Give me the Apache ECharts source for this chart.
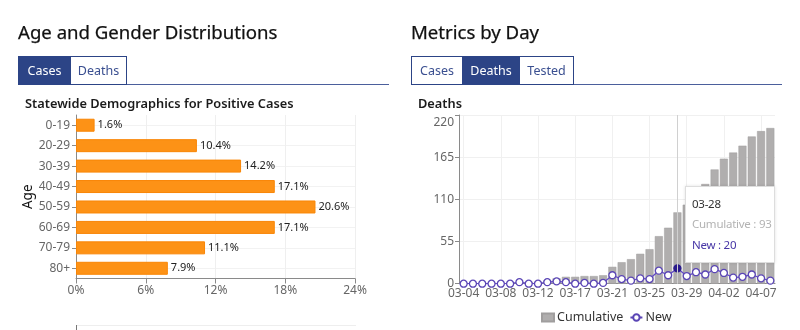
<!DOCTYPE html>
<html>
<head>
<meta charset="utf-8">
<script src="https://cdn.jsdelivr.net/npm/echarts@6/dist/echarts.min.js"></script>
<style>
  body { margin: 0; width: 800px; height: 330px; overflow: hidden; background: #fff; font-family: "Noto Sans", sans-serif; }
  #chart { position: absolute; left: 0; top: 0; width: 800px; height: 330px; }
  .head { position: absolute; top: 19px; font-size: 18.6px; color: #111; white-space: nowrap; -webkit-text-stroke: 0.25px #111; }
  .tab { position: absolute; top: 56px; height: 29px; box-sizing: border-box; border: 1px solid #2c4486;
         font-size: 12.5px; line-height: 27px; text-align: center; color: #3a4f90; background: #fff; }
  .tab.on { background: #2c4486; color: #fff; }
  .rule { position: absolute; top: 84px; height: 1px; background: #4b5f9c; }
  .sub { position: absolute; top: 94px; font-size: 12.8px; font-weight: 600; color: #1b1b1b; white-space: nowrap; }
  .panel-top { position: absolute; }
</style>
</head>
<body>
<div id="chart"></div>

<div class="head" style="left:18px">Age and Gender Distributions</div>
<div class="rule" style="left:18px;width:371px"></div>
<div class="tab on" style="left:18px;width:53px">Cases</div>
<div class="tab" style="left:70px;width:57px">Deaths</div>
<div class="sub" style="left:25px">Statewide Demographics for Positive Cases</div>
<div class="panel-top" style="left:76px;top:325px;width:1px;height:5px;background:#777"></div>
<div class="panel-top" style="left:77px;top:325px;width:279px;height:1px;background:#eee"></div>

<div class="head" style="left:411px">Metrics by Day</div>
<div class="rule" style="left:411px;width:371px"></div>
<div class="tab" style="left:411px;width:52px">Cases</div>
<div class="tab on" style="left:462px;width:58px">Deaths</div>
<div class="tab" style="left:519px;width:55px">Tested</div>
<div class="sub" style="left:418px">Deaths</div>

<script>
// Share of positive cases by age group (%)
const ageGroups = ['0-19', '20-29', '30-39', '40-49', '50-59', '60-69', '70-79', '80+'];
const casePct = [1.6, 10.4, 14.2, 17.1, 20.6, 17.1, 11.1, 7.9];

// Daily deaths
const days = ['03-04', '03-05', '03-06', '03-07', '03-08', '03-09', '03-10', '03-11', '03-12', '03-13',
  '03-14', '03-16', '03-17', '03-18', '03-19', '03-20', '03-21', '03-22', '03-23', '03-24',
  '03-25', '03-26', '03-27', '03-28', '03-29', '03-30', '03-31', '04-01', '04-02', '04-03',
  '04-04', '04-06', '04-07', '04-08'];
const cumulativeDeaths = [0, 0, 0, 0, 0, 0, 2, 2, 2, 4, 7, 9, 9, 10, 10, 11, 22, 28, 32, 39,
  45, 62, 73, 93, 103, 118, 130, 149, 163, 171, 180, 192, 199, 203];
const newDeaths = [0, 0, 0, 0, 0, 0, 2, 0, 0, 2, 3, 2, 0, 1, 0, 1, 11, 6, 4, 7,
  6, 17, 11, 20, 10, 15, 12, 19, 14, 8, 9, 12, 7, 4];
const focusDay = '03-28';

const font = '"Noto Sans", sans-serif';
const axisGray = '#8a8a8a';
const labelGray = '#666';
const lineColor = '#5a45b5';
const cumColor = '#b0aeae';

const chart = echarts.init(document.getElementById('chart'), null, { renderer: 'canvas' });

chart.setOption({
  animation: false,
  textStyle: { fontFamily: font },
  grid: [
    { left: 76, right: 445, top: 115, bottom: 51.5 },
    { left: 459, right: 25, top: 115, bottom: 46.3 }
  ],
  xAxis: [
    {
      gridIndex: 0, type: 'value', min: 0, max: 24, interval: 6,
      axisLine: { show: true, lineStyle: { color: axisGray } },
      axisTick: { show: true, length: 5, lineStyle: { color: axisGray } },
      axisLabel: { formatter: '{value}%', color: labelGray, fontSize: 12, margin: 6 },
      splitLine: { show: true, lineStyle: { color: '#efefef' } }
    },
    {
      gridIndex: 1, type: 'category', data: days,
      axisLine: { lineStyle: { color: axisGray } },
      axisTick: { alignWithLabel: true, interval: 3, length: 5, lineStyle: { color: axisGray } },
      axisLabel: { interval: 3, color: labelGray, fontSize: 12, margin: 4 },
      splitLine: { show: true, interval: 3, alignWithLabel: true, lineStyle: { color: '#f0f0f0' } },
      axisPointer: { type: 'line', lineStyle: { color: '#d0d0d0', width: 1, type: 'solid' }, label: { show: false } }
    }
  ],
  yAxis: [
    {
      gridIndex: 0, type: 'category', data: ageGroups, inverse: true,
      name: 'Age', nameLocation: 'middle', nameGap: 38, nameRotate: 90,
      nameTextStyle: { color: '#111', fontSize: 13.5 },
      axisLine: { show: true, lineStyle: { color: axisGray } },
      axisTick: { show: true, alignWithLabel: true, length: 4, lineStyle: { color: axisGray } },
      axisLabel: { color: labelGray, fontSize: 12, margin: 6 },
      splitLine: { show: true, alignWithLabel: true, lineStyle: { color: '#f2f2f2' } }
    },
    {
      gridIndex: 1, type: 'value', min: 0, max: 220, interval: 55,
      axisLine: { show: true, lineStyle: { color: axisGray } },
      axisTick: { show: true, length: 4, lineStyle: { color: axisGray } },
      axisLabel: {
        color: labelGray, fontSize: 12, margin: 5,
        formatter: v => (v === 220 ? '{top|220}' : String(v)),
        rich: { top: { padding: [16, 0, 0, 0], color: labelGray, fontSize: 12 } }
      },
      splitLine: { show: true, lineStyle: { color: '#f0f0f0' } }
    }
  ],
  legend: {
    left: 536, top: 306,
    itemWidth: 12, itemHeight: 8, itemGap: 6,
    textStyle: { color: '#333', fontSize: 12.5, padding: [0, 0, 0, -2] },
    data: [
      { name: 'Cumulative', icon: 'rect' },
      { name: 'New' }
    ]
  },
  tooltip: {
    trigger: 'axis',
    triggerOn: 'none',
    alwaysShowContent: true,
    transitionDuration: 0,
    backgroundColor: '#fff',
    borderColor: '#dddddd',
    borderWidth: 1,
    padding: [7, 5, 7, 6],
    extraCssText: 'box-shadow:0 0 3px rgba(0,0,0,0.12);border-radius:0;width:77px;',
    position: () => [685, 186],
    formatter: params => {
      const cum = params.find(p => p.seriesName === 'Cumulative');
      const nw = params.find(p => p.seriesName === 'New');
      return '<div style="font-family:' + font.replace(/"/g, "'") + ';font-size:11.5px;letter-spacing:-0.25px;line-height:20px;white-space:nowrap">' +
        '<div style="color:#333">' + cum.axisValue + '</div>' +
        '<div style="color:#b3b3b3">Cumulative : ' + cum.value + '</div>' +
        '<div style="color:#4736a6;margin-top:1px">New : ' + nw.value + '</div></div>';
    }
  },
  series: [
    {
      name: 'Positive Cases', type: 'bar', xAxisIndex: 0, yAxisIndex: 0,
      data: casePct, barWidth: 13,
      itemStyle: { color: '#fd9216', borderColor: '#f98606', borderWidth: 1 },
      label: { show: true, position: 'right', distance: 3, formatter: '{c}%', color: '#222', fontSize: 11 },
      emphasis: { disabled: true },
      tooltip: { show: false }
    },
    {
      name: 'Cumulative', type: 'bar', xAxisIndex: 1, yAxisIndex: 1,
      data: cumulativeDeaths, barWidth: 8,
      itemStyle: { color: cumColor, borderColor: '#a09e9e', borderWidth: 0.5 },
      emphasis: { disabled: true }
    },
    {
      name: 'New', type: 'line', xAxisIndex: 1, yAxisIndex: 1,
      data: newDeaths,
      symbol: 'circle', symbolSize: 7, showAllSymbol: true,
      lineStyle: { color: lineColor, width: 1.3 },
      itemStyle: { color: '#fff', borderColor: lineColor, borderWidth: 1.3 },
      emphasis: { scale: false, itemStyle: { color: '#2a1a8c', borderColor: '#2a1a8c' } }
    }
  ]
});

chart.dispatchAction({ type: 'showTip', seriesIndex: 2, dataIndex: days.indexOf(focusDay) });
</script>
</body>
</html>
